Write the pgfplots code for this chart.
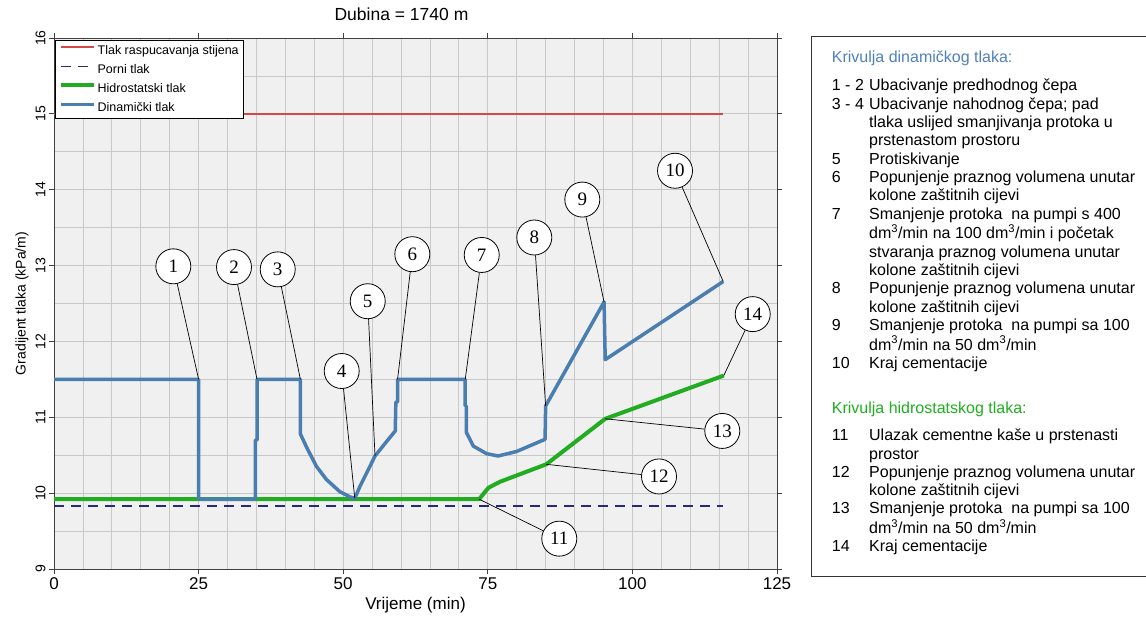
\documentclass[border=0pt]{standalone}
\usepackage{fontspec}
\setmainfont{Liberation Sans}
\newfontfamily\serif{Liberation Serif}
\usepackage{pgfplots}
\pgfplotsset{compat=1.18}

\definecolor{dynblue}{RGB}{74,126,176}
\definecolor{hydgreen}{RGB}{34,172,34}
\definecolor{fracred}{RGB}{212,72,72}
\definecolor{porenavy}{RGB}{40,40,125}
\definecolor{headblue}{RGB}{79,129,189}
\definecolor{headgreen}{RGB}{30,175,30}
\definecolor{bggray}{RGB}{240,240,240}
\definecolor{gridgray}{RGB}{200,200,200}

\tikzset{
  callout/.style={circle, draw=black, line width=0.8pt, fill=white,
    minimum size=35pt, inner sep=0pt, font=\serif\fontsize{19}{19}\selectfont},
  leader/.style={black, line width=0.7pt}
}

\begin{document}
\begin{tikzpicture}
\begin{axis}[
  at={(54pt,47pt)}, anchor=south west,
  width=723pt, height=531pt, scale only axis,
  xmin=0, xmax=125, ymin=9, ymax=16,
  xtick={0,25,...,125}, ytick={9,...,16},
  minor x tick num=4, minor y tick num=1,
  grid=both,
  major grid style={gridgray, line width=0.8pt},
  minor grid style={gridgray, line width=0.8pt},
  axis background/.style={fill=bggray},
  axis line style={black!75, line width=1pt},
  tick style={black!75, line width=0.8pt},
  tick align=outside, major tick length=5pt, minor tick length=0pt,
  clip=false,
  /pgf/number format/assume math mode=true,
  xticklabel style={font=\fontsize{17}{17}\selectfont},
  yticklabel style={font=\fontsize{14}{14}\selectfont, rotate=90, anchor=south},
  title={Dubina = 1740 m},
  title style={font=\fontsize{17.5}{17.5}\selectfont, at={(axis description cs:0.4806,1.0339)}, anchor=center},
  xlabel={Vrijeme (min)},
  xlabel style={font=\fontsize{17}{17}\selectfont, at={(axis description cs:0.5,-0.0678)}, anchor=center},
  ylabel={Gradijent tlaka (kPa/m)},
  ylabel style={font=\fontsize{14}{14}\selectfont, at={(axis description cs:-0.0443,0.5)}, anchor=center},
  legend style={name=leg, at={(0.002,0.996)}, anchor=north west, fill=white,
    font=\fontsize{12.5}{12.5}\selectfont, inner xsep=3pt, inner ysep=3pt, row sep=4.5pt},
  legend cell align=left,
  legend image code/.code={\draw[#1] (0pt,3.5pt) -- (33pt,3.5pt);},
]
% tlak raspucavanja
\addplot[draw=fracred, line width=1.6pt] coordinates {(0,15) (115.7,15)};
\addlegendentry{Tlak raspucavanja stijena}
% porni tlak
\addplot[draw=porenavy, line width=1.3pt, dash pattern=on 10pt off 7pt] coordinates {(0,9.83) (115.7,9.83)};
\addlegendentry{Porni tlak}
% hidrostatski
\addplot[draw=hydgreen, line width=4pt, line join=round] coordinates {
  (0,9.92) (73.5,9.92) (75.1,10.07) (77.1,10.15) (85.1,10.38) (95.3,10.98) (115.8,11.55)
};
\addlegendentry{Hidrostatski tlak}
% dinamicki
\addplot[draw=dynblue, line width=3.5pt, line join=round] coordinates {
  (0,11.5) (25,11.5) (25,9.92) (34.8,9.92) (34.8,10.7) (35.1,10.7) (35.1,11.5)
  (42.6,11.5) (42.6,10.78) (43.7,10.6) (45.4,10.35) (47.1,10.18) (49.4,10.02)
  (51.2,9.95) (52.0,9.93) (52.9,10.09) (54.6,10.35) (55.5,10.49) (57.5,10.68)
  (59.0,10.82) (59.1,11.2) (59.4,11.2) (59.4,11.5) (71.1,11.5) (71.1,11.15)
  (71.3,11.15) (71.3,10.8) (72.5,10.62) (74.8,10.52) (76.8,10.49) (80.0,10.55)
  (84.9,10.71) (85.0,11.15) (95.1,12.52) (95.3,11.76) (115.7,12.79)
};
\addlegendentry{Dinamički tlak}

% oznake
\node[callout] (c1) at (axis cs:20.63,12.99) {1};
\node[callout] (c2) at (axis cs:31.12,12.98) {2};
\node[callout] (c3) at (axis cs:38.68,12.95) {3};
\node[callout] (c4) at (axis cs:49.74,11.61) {4};
\node[callout] (c5) at (axis cs:54.24,12.53) {5};
\node[callout] (c6) at (axis cs:61.95,13.15) {6};
\node[callout] (c7) at (axis cs:73.95,13.14) {7};
\node[callout] (c8) at (axis cs:83.04,13.37) {8};
\node[callout] (c9) at (axis cs:91.34,13.87) {9};
\node[callout] (c10) at (axis cs:107.37,14.25) {10};
\node[callout] (c11) at (axis cs:87.36,9.40) {11};
\node[callout] (c12) at (axis cs:104.60,10.22) {12};
\node[callout] (c13) at (axis cs:115.54,10.82) {13};
\node[callout] (c14) at (axis cs:120.80,12.36) {14};
\draw[leader] (c1) -- (axis cs:25,11.5);
\draw[leader] (c2) -- (axis cs:35.1,11.5);
\draw[leader] (c3) -- (axis cs:42.6,11.5);
\draw[leader] (c4) -- (axis cs:52.0,9.93);
\draw[leader] (c5) -- (axis cs:55.5,10.49);
\draw[leader] (c6) -- (axis cs:59.4,11.5);
\draw[leader] (c7) -- (axis cs:71.1,11.5);
\draw[leader] (c8) -- (axis cs:85.0,11.15);
\draw[leader] (c9) -- (axis cs:95.1,12.52);
\draw[leader] (c10) -- (axis cs:115.7,12.79);
\draw[leader] (c11) -- (axis cs:73.5,9.92);
\draw[leader] (c12) -- (axis cs:85.1,10.38);
\draw[leader] (c13) -- (axis cs:95.3,10.98);
\draw[leader] (c14) -- (axis cs:115.8,11.55);
\end{axis}
\draw[black, line width=1.2pt] (leg.south west) rectangle (leg.north east);

% okvir s opisom
\draw[black!80, line width=1pt] (811.7pt,579.3pt) rectangle (1160pt,39.3pt);
\node[anchor=base west, inner sep=0pt, text=headblue, font=\fontsize{16}{18.33}\selectfont]
  at (831.7pt,553.6pt) {Krivulja dinamičkog tlaka:};
\node[anchor=north west, inner sep=0pt, font=\fontsize{16}{18.33}\selectfont] at (831.7pt,538.1pt) {%
\begin{tabular}{@{}p{37.3pt}@{}l@{}}
1 - 2 & Ubacivanje predhodnog čepa\\
3 - 4 & Ubacivanje nahodnog čepa; pad\\
      & tlaka uslijed smanjivanja protoka u\\
      & prstenastom prostoru\\
5     & Protiskivanje\\
6     & Popunjenje praznog volumena unutar\\
      & kolone zaštitnih cijevi\\
7     & Smanjenje protoka\ \ na pumpi s 400\\
      & dm\textsuperscript{3}/min na 100 dm\textsuperscript{3}/min i početak\\
      & stvaranja praznog volumena unutar\\
      & kolone zaštitnih cijevi\\
8     & Popunjenje praznog volumena unutar\\
      & kolone zaštitnih cijevi\\
9     & Smanjenje protoka\ \ na pumpi sa 100\\
      & dm\textsuperscript{3}/min na 50 dm\textsuperscript{3}/min\\
10    & Kraj cementacije
\end{tabular}};
\node[anchor=base west, inner sep=0pt, text=headgreen, font=\fontsize{16}{18.2}\selectfont]
  at (831.7pt,202.6pt) {Krivulja hidrostatskog tlaka:};
\node[anchor=north west, inner sep=0pt, font=\fontsize{16}{18.2}\selectfont] at (831.7pt,188.0pt) {%
\begin{tabular}{@{}p{37.3pt}@{}l@{}}
11 & Ulazak cementne kaše u prstenasti\\
   & prostor\\
12 & Popunjenje praznog volumena unutar\\
   & kolone zaštitnih cijevi\\
13 & Smanjenje protoka\ \ na pumpi sa 100\\
   & dm\textsuperscript{3}/min na 50 dm\textsuperscript{3}/min\\
14 & Kraj cementacije
\end{tabular}};

\pgfresetboundingbox
\path[use as bounding box] (0pt,0pt) rectangle (1146pt,616pt);
\end{tikzpicture}
\end{document}
